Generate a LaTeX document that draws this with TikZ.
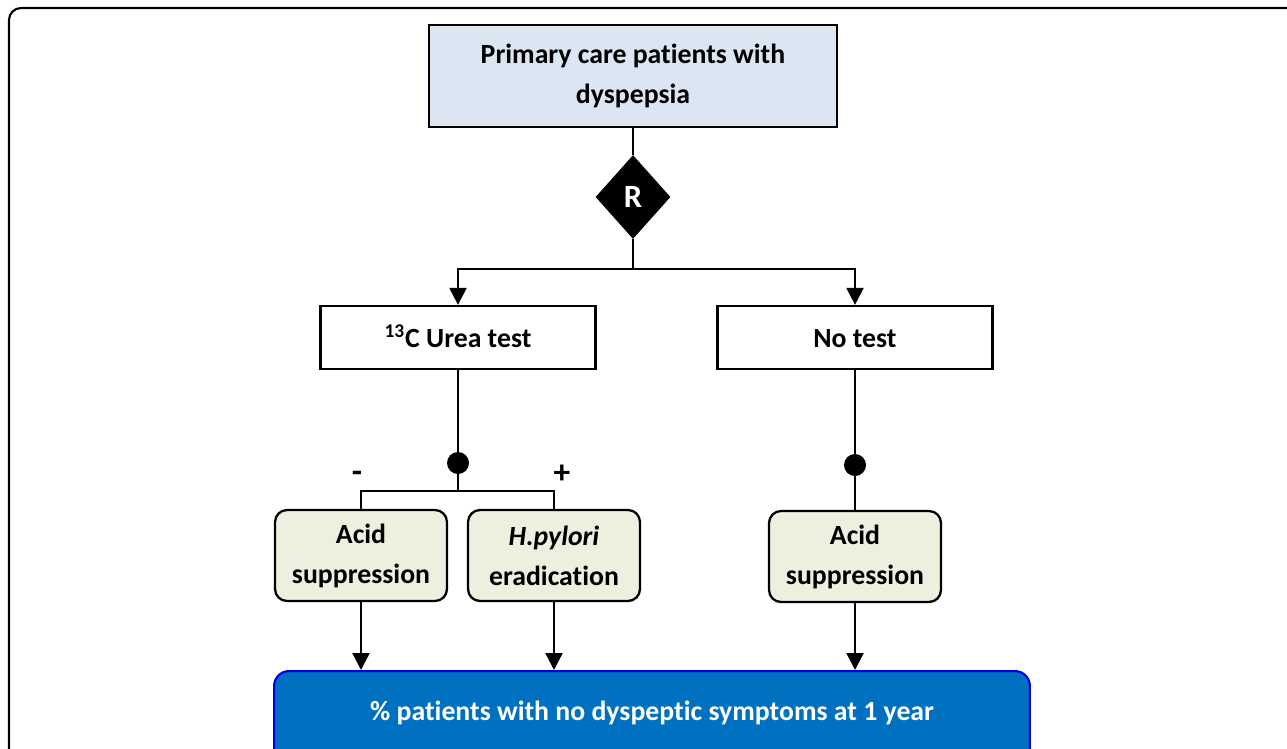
\documentclass[tikz,border=0pt]{standalone}
\usepackage{fontspec}
\setmainfont[Ligatures=NoCommon]{Carlito}
\usetikzlibrary{shapes.geometric,arrows.meta}
\definecolor{startBlue}{HTML}{DCE6F2}
\definecolor{treatGreen}{HTML}{EBF1DE}
\definecolor{outFill}{HTML}{0070C0}
\definecolor{outEdge}{HTML}{0000E6}

\begin{document}
\begin{tikzpicture}
        [x=0.02cm, y=-0.02cm, >={Triangle[width=0.34cm,length=0.34cm]},
        every node/.style={font=\bfseries\fontsize{15.8}{22.8}\selectfont},
        line/.style={line width=1.3pt},
        startBox/.style={rectangle, draw, line width=1.5pt, fill=startBlue, minimum width=8.16cm, minimum height=2.04cm, align=center},
        testBox/.style={rectangle, draw, line width=1.3pt, fill=white, minimum width=5.5cm, minimum height=1.26cm, text height=15pt, text depth=4pt},
        treatBox/.style={rectangle, rounded corners=0.24cm, draw, line width=1.3pt, fill=treatGreen, minimum width=3.44cm, minimum height=1.82cm, align=center},
        randNode/.style={diamond, fill=black, text=white, minimum width=1.5cm, minimum height=1.68cm, inner sep=0pt, font=\bfseries\fontsize{18.5}{22}\selectfont},
        dotNode/.style={circle, fill=black, minimum size=0.44cm, inner sep=0pt},
        signNode/.style={font=\bfseries\fontsize{19}{22}\selectfont},
        outBox/.style={rectangle, rounded corners=0.3cm, draw=outEdge, line width=1.2pt, fill=outFill, text=white, minimum width=15.12cm, inner ysep=0pt, text height=0.98cm, text depth=1.2cm}]
        \useasboundingbox (0,0) rectangle (1287,748);
        \draw[line width=1.2pt, rounded corners=0.24cm] (9,800) -- (9,8) -- (1320,8);

        \node[startBox] (start) at (633,76) {Primary care patients with\\dyspepsia};
        \node[randNode] (rand) at (633,197) {R};
        \node[testBox] (urea) at (458,337.5) {\textsuperscript{13}C Urea test};
        \node[testBox] (notest) at (855,337.5) {No test};
        \node[dotNode] (dotL) at (458,463) {};
        \node[dotNode] (dotR) at (855,465) {};
        \node[signNode] (minus) at (357,477) {-};
        \node[signNode] (plus) at (562,474) {+};
        \node[treatBox] (acidL) at (361,555.5) {Acid\\suppression};
        \node[treatBox] (hpylori) at (554,555.5) {\textit{H.pylori}\\eradication};
        \node[treatBox] (acidR) at (855,556.5) {Acid\\suppression};
        \node[outBox, anchor=north] (out) at (652,670) {\% patients with no dyspeptic symptoms at 1 year};

        \coordinate (split) at (633,269);
        \coordinate (splitL) at (458,491);

        \draw[line] (start) -- (rand);
        \draw[line] (rand) -- (split);
        \draw[line, ->] (split) -| (urea);
        \draw[line, ->] (split) -| (notest);

        \draw[line] (urea) -- (dotL);
        \draw[line] (dotL) -- (splitL);
        \draw[line] (splitL) -| (acidL);
        \draw[line] (splitL) -| (hpylori);
        \draw[line] (notest) -- (dotR);
        \draw[line] (dotR) -- (acidR);

        \draw[line, ->] (acidL) -- (acidL |- out.north);
        \draw[line, ->] (hpylori) -- (hpylori |- out.north);
        \draw[line, ->] (acidR) -- (acidR |- out.north);
    
    \end{tikzpicture}
\end{document}
